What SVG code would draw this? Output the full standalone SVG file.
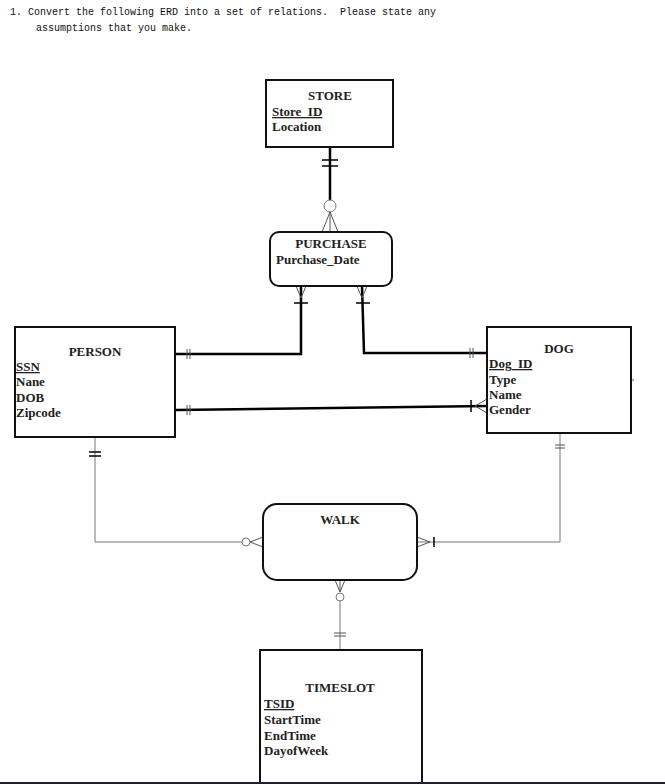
<svg xmlns="http://www.w3.org/2000/svg" width="665" height="784" viewBox="0 0 665 784">
<style>
.t{font-family:"Liberation Mono",monospace;font-size:10px;fill:#111;white-space:pre}
.box{fill:#fff;stroke:#111;stroke-width:2}
.lbl{font-family:"Liberation Serif",serif;font-size:13px;font-weight:bold;fill:#222}
.ttl{text-anchor:middle}
.thick{fill:none;stroke:#000;stroke-width:2.5}
.thin{fill:none;stroke:#777;stroke-width:1}
.tk{fill:none;stroke:#555;stroke-width:1}
.tkb{fill:none;stroke:#000;stroke-width:1.5}
.circ{fill:#fff;stroke:#777;stroke-width:1}
</style>
<rect width="665" height="784" fill="#fff"/>
<text class="t" x="10" y="15" xml:space="preserve">1. Convert the following ERD into a set of relations.  Please state any</text>
<text class="t" x="36" y="31">assumptions that you make.</text>

<g id="connectors">
  <!-- STORE - PURCHASE -->
  <line class="thick" x1="330" y1="147" x2="330" y2="200" stroke-width="3"/>
  <line class="tkb" x1="322" y1="160" x2="338" y2="160"/>
  <line class="tkb" x1="322" y1="166" x2="338" y2="166"/>
  <circle class="circ" cx="330" cy="206" r="6"/>
  <path class="tk" d="M330 212 L322 232 M330 212 L330 232 M330 212 L338 232"/>
  <!-- PURCHASE - PERSON -->
  <polyline class="thick" points="301,286 301,354 176,354"/>
  <path class="tk" d="M301 298 L296 286 M301 298 L306 286"/>
  <line class="tkb" x1="294" y1="303" x2="308" y2="303"/>
  <line class="tk" x1="187" y1="349" x2="187" y2="359"/>
  <line class="tk" x1="190" y1="349" x2="190" y2="359"/>
  <!-- PURCHASE - DOG -->
  <polyline class="thick" points="362,286 364,353 487,353"/>
  <path class="tk" d="M362 298 L357 286 M362 298 L367 286"/>
  <line class="tkb" x1="356" y1="303" x2="370" y2="303"/>
  <line class="tk" x1="470" y1="348" x2="470" y2="358"/>
  <line class="tk" x1="473" y1="348" x2="473" y2="358"/>
  <!-- PERSON - DOG -->
  <line class="thick" x1="176" y1="410" x2="487" y2="406"/>
  <line class="tk" x1="187" y1="405" x2="187" y2="415"/>
  <line class="tk" x1="190" y1="405" x2="190" y2="415"/>
  <line class="tkb" x1="471" y1="400" x2="471" y2="412"/>
  <path class="tk" d="M475 406 L487 399 M475 406 L487 413"/>
  <!-- PERSON - WALK -->
  <polyline class="thin" points="95,437 95,542 242,542"/>
  <line class="tkb" x1="89" y1="452" x2="101" y2="452" stroke-width="1"/>
  <line class="tkb" x1="89" y1="456" x2="101" y2="456" stroke-width="1"/>
  <circle class="circ" cx="246" cy="542" r="4"/>
  <path class="tk" d="M250 542 L263 537 M250 542 L263 547"/>
  <!-- DOG - WALK -->
  <polyline class="thin" points="560,433 560,542 417,542"/>
  <line class="tk" x1="555" y1="445" x2="565" y2="445"/>
  <line class="tk" x1="555" y1="448" x2="565" y2="448"/>
  <line class="tkb" x1="434" y1="537" x2="434" y2="547" stroke-width="1"/>
  <path class="tk" d="M430 542 L417 537 M430 542 L417 547"/>
  <!-- WALK - TIMESLOT -->
  <line class="thin" x1="340" y1="601" x2="340" y2="650" stroke="#333"/>
  <path class="tk" d="M340 592 L335 580 M340 592 L340 580 M340 592 L345 580"/>
  <circle class="circ" cx="340" cy="597" r="4"/>
  <line class="tk" x1="334" y1="633" x2="346" y2="633"/>
  <line class="tk" x1="334" y1="636" x2="346" y2="636"/>
  <line class="tk" x1="631" y1="380" x2="634" y2="380"/>
</g>

<g id="store">
  <rect class="box" x="266" y="80" width="127" height="67" stroke-width="2.5"/>
  <text class="lbl ttl" x="330" y="100">STORE</text>
  <text class="lbl" x="272" y="116" text-decoration="underline">Store_ID</text>
  <text class="lbl" x="272" y="131">Location</text>
</g>

<g id="purchase">
  <rect class="box" x="270" y="232" width="122" height="54" rx="9"/>
  <text class="lbl ttl" x="331" y="248">PURCHASE</text>
  <text class="lbl" x="276" y="264">Purchase_Date</text>
</g>

<g id="person">
  <rect class="box" x="15" y="327" width="160" height="110"/>
  <text class="lbl ttl" x="95" y="356">PERSON</text>
  <text class="lbl" x="16" y="371" text-decoration="underline">SSN</text>
  <text class="lbl" x="16" y="386">Nane</text>
  <text class="lbl" x="16" y="402">DOB</text>
  <text class="lbl" x="16" y="417">Zipcode</text>
</g>

<g id="dog">
  <rect class="box" x="487" y="327" width="144" height="106"/>
  <text class="lbl ttl" x="559" y="353">DOG</text>
  <text class="lbl" x="489" y="368" text-decoration="underline">Dog_ID</text>
  <text class="lbl" x="489" y="384">Type</text>
  <text class="lbl" x="489" y="399">Name</text>
  <text class="lbl" x="489" y="414">Gender</text>
</g>

<g id="walk">
  <rect class="box" x="263" y="504" width="154" height="76" rx="14"/>
  <text class="lbl ttl" x="340" y="524">WALK</text>
</g>

<g id="timeslot">
  <rect class="box" x="260" y="650" width="162" height="140"/>
  <text class="lbl ttl" x="340" y="692">TIMESLOT</text>
  <text class="lbl" x="264" y="708" text-decoration="underline">TSID</text>
  <text class="lbl" x="264" y="724">StartTime</text>
  <text class="lbl" x="264" y="740">EndTime</text>
  <text class="lbl" x="264" y="755">DayofWeek</text>
</g>

<line x1="0" y1="783" x2="665" y2="783" stroke="#1a2230" stroke-width="2"/>
</svg>
